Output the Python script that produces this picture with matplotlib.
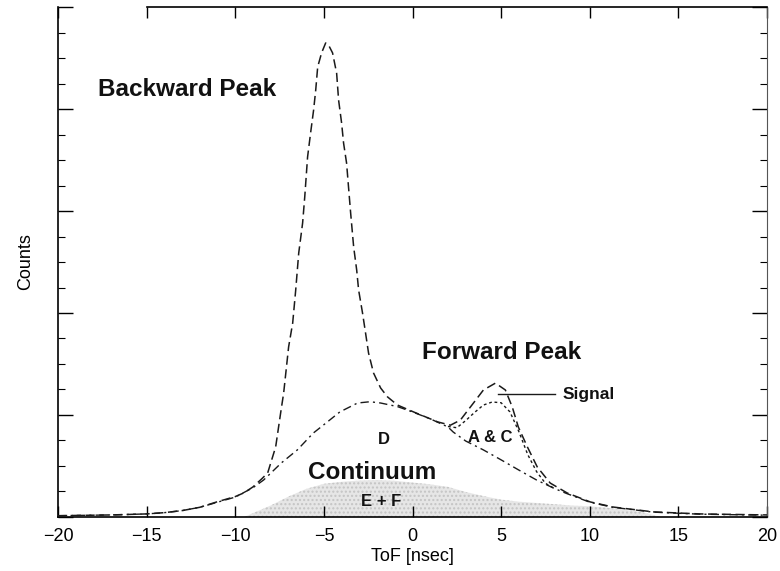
import matplotlib
matplotlib.use("Agg")
import matplotlib.pyplot as plt
from matplotlib.ticker import MultipleLocator

plt.rcParams['font.family'] = ['Liberation Sans', 'DejaVu Sans']

# total fitted spectrum (backward peak + continuum + forward peak)
tof_total = [-20, -17, -15, -14, -13, -12, -11, -10, -9.5, -9, -8.5, -8.17, -7.72,
             -7.44, -7.27, -6.99, -6.76, -6.59, -6.42, -6.2, -6.08, -5.92, -5.75,
             -5.58, -5.46, -5.35, -5.13, -4.9, -4.73, -4.51, -4.28, -4.17, -4.0,
             -3.89, -3.72, -3.61, -3.49, -3.32, -3.15, -3.04, -2.82, -2.65, -2.48,
             -2.2, -1.8, -1.41, -0.85, 0.06, 1.0, 1.41, 2.14, 2.7, 3.44, 4.0, 4.68,
             5.24, 5.63, 5.97, 6.48, 7.04, 7.77, 8.73, 10.03, 11.32, 13.58, 16.2, 20]
counts_total = [0.05, 0.08, 0.12, 0.17, 0.25, 0.38, 0.6, 0.8, 0.95, 1.18, 1.5, 1.73,
                2.75, 4.08, 4.86, 6.67, 7.61, 8.9, 10.35, 11.53, 12.55, 14.12, 15.06,
                15.96, 16.75, 17.65, 18.2, 18.59, 18.5, 18.2, 17.4, 16.35, 15.45,
                14.67, 13.88, 12.94, 11.92, 10.59, 9.69, 8.9, 8.0, 7.22, 6.43, 5.65,
                5.06, 4.71, 4.39, 4.12, 3.85, 3.73, 3.6, 3.8, 4.47, 4.98, 5.25, 4.98,
                4.31, 3.53, 2.75, 1.96, 1.33, 0.94, 0.59, 0.39, 0.2, 0.12, 0.08]

# continuum D
tof_cont = [-20, -17, -15, -14, -13, -12, -11, -10, -9, -8.4, -7.4, -6.5, -5.6, -4.8,
            -4.1, -3.1, -2.4, -1.8, -0.85, 0, 1.0, 2.0, 2.3, 3.0, 4.0, 5.0, 6.0, 7.0,
            8.0, 8.7, 10, 11.3, 13.6, 16.2, 20]
counts_cont = [0.05, 0.08, 0.12, 0.17, 0.25, 0.38, 0.58, 0.78, 1.15, 1.45, 2.12, 2.63,
               3.29, 3.73, 4.12, 4.47, 4.52, 4.47, 4.33, 4.12, 3.85, 3.53, 3.33, 2.98,
               2.63, 2.24, 1.84, 1.45, 1.12, 0.92, 0.58, 0.38, 0.19, 0.11, 0.07]

# continuum + A & C
tof_ac = [2.0, 2.5, 3.0, 3.5, 4.0, 4.5, 5.0, 5.5, 6.0, 6.5, 7.0, 7.5, 8.0]
counts_ac = [3.55, 3.5, 3.78, 4.1, 4.39, 4.51, 4.48, 4.12, 3.35, 2.45, 1.78, 1.32, 1.12]

# E + F background
tof_ef = [-9.5, -9, -8, -7, -6, -5, -4, -3, -2, -1, 0, 1, 2, 3, 4, 5, 6, 7, 8, 9,
          10, 11, 12, 13, 14]
counts_ef = [0, 0.15, 0.45, 0.8, 1.1, 1.3, 1.38, 1.43, 1.45, 1.42, 1.35, 1.28, 1.18,
             0.98, 0.82, 0.68, 0.6, 0.55, 0.5, 0.45, 0.42, 0.36, 0.28, 0.18, 0.0]

x_ticks = [-20, -15, -10, -5, 0, 5, 10, 15, 20]
x_tick_labels = ['\u221220', '\u221215', '\u221210', '\u22125', '0', '5', '10', '15', '20']

fig = plt.figure(figsize=(7.8, 5.71), dpi=100)
ax = fig.add_axes([0.0744, 0.0946, 0.9089, 0.8931])

ax.fill_between(tof_ef, counts_ef, 0, facecolor='#e6e6e6', edgecolor='#c4c4c4',
                hatch='....', linewidth=0, zorder=1)

line_color = '#1a1a1a'
ax.plot(tof_total, counts_total, color=line_color, lw=1.1, dashes=(6, 3), zorder=3)
ax.plot(tof_cont, counts_cont, color=line_color, lw=1.0, dashes=(6, 3, 1.5, 3), zorder=3)
ax.plot(tof_ac, counts_ac, color=line_color, lw=1.0, dashes=(2, 2), zorder=3)

# labels
bold = dict(fontweight='bold', color='#111111')
ax.text(-17.75, 16.75, 'Backward Peak', fontsize=17.5, ha='left', va='center', **bold)
ax.text(0.56, 6.47, 'Forward Peak', fontsize=17.5, ha='left', va='center', **bold)
ax.text(-2.28, 1.73, 'Continuum', fontsize=17.5, ha='center', va='center', **bold)
ax.text(-1.63, 3.02, 'D', fontsize=12, ha='center', va='center', **bold)
ax.text(4.39, 3.1, 'A & C', fontsize=12, ha='center', va='center', **bold)
ax.text(-1.75, 0.59, 'E + F', fontsize=12, ha='center', va='center', zorder=4, **bold)

ax.plot([4.85, 8.06], [4.82, 4.82], color=line_color, lw=1.0)
ax.text(8.45, 4.82, 'Signal', fontsize=12.5, ha='left', va='center', **bold)

ax.set_xlim(-20, 20)
ax.set_ylim(0, 20)
ax.set_xticks(x_ticks, x_tick_labels)
ax.yaxis.set_major_locator(MultipleLocator(4))
ax.yaxis.set_minor_locator(MultipleLocator(1))
ax.tick_params(axis='x', direction='in', top=True, length=8, width=1,
               labelsize=13, pad=8)
ax.tick_params(axis='y', direction='in', right=True, left=True, which='major',
               length=11, width=1, labelleft=False)
ax.tick_params(axis='y', direction='in', right=True, left=True, which='minor',
               length=5, width=0.8)

for side in ['left', 'bottom', 'top']:
    ax.spines[side].set_linewidth(1.2)
ax.spines['top'].set_bounds(-15, 20)
ax.spines['right'].set_color('#555555')

ax.set_xlabel('ToF [nsec]', fontsize=13, labelpad=2)
ax.set_ylabel('Counts', fontsize=13, labelpad=14)

fig.savefig('out.png', dpi=100)
